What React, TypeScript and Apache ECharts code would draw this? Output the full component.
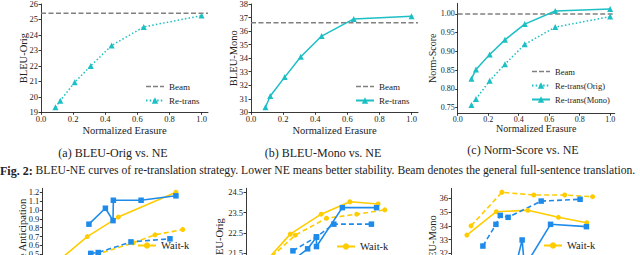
import React, { useEffect, useRef } from 'react';
import * as echarts from 'echarts';

// ---------- Top row: BLEU-NE curves ----------
const neX = [0.09, 0.12, 0.21, 0.31, 0.44, 0.64, 1.0];
const bleuOrigRetrans = [19.32, 19.75, 20.94, 22.0, 23.32, 24.52, 25.25];
const bleuOrigBeam = 25.4;
const bleuMonoRetrans = [30.37, 31.2, 32.6, 34.1, 35.63, 36.9, 37.1];
const bleuMonoBeam = 36.62;
const normOrig = [0.757, 0.773, 0.822, 0.866, 0.919, 0.965, 0.993];
const normMono = [0.827, 0.852, 0.892, 0.931, 0.973, 1.008, 1.013];
const normBeam = 1.0;

const neTicks = [0, 0.2, 0.4, 0.6, 0.8, 1.0];
const bleuOrigTicks = [19, 20, 21, 22, 23, 24, 25, 26];
const bleuMonoTicks = [30, 31, 32, 33, 34, 35, 36, 37, 38];
const normTicks = [0.75, 0.8, 0.85, 0.9, 0.95, 1.0];

// ---------- Bottom row: simultaneous translation curves ----------
const antWaitkX = [0.8, 2.71, 4.58, 8.05];
const antWaitkY = [0.4, 0.7, 0.92, 1.2];
const antWaitkFtX = [2.27, 5.48, 6.79, 8.46];
const antWaitkFtY = [0.44, 0.63, 0.72, 0.78];
const antOursX = [2.81, 3.8, 4.26, 4.28, 5.95, 8.05];
const antOursY = [0.84, 1.02, 0.88, 1.11, 1.11, 1.16];
const antOursFtX = [2.92, 3.37, 5.34, 7.69];
const antOursFtY = [0.51, 0.52, 0.64, 0.675];
const antTicks = [0, 0.1, 0.2, 0.3, 0.4, 0.5, 0.6, 0.7, 0.8, 0.9, 1.0, 1.1, 1.2];

const origWaitkX = [1.02, 2.65, 4.5, 6.22, 7.91];
const origWaitkY = [20.96, 22.45, 23.43, 24.04, 23.93];
const origWaitkFtX = [1.2, 2.95, 4.82, 6.63, 8.31];
const origWaitkFtY = [21.1, 22.4, 23.23, 23.43, 23.64];
const origOursX = [2.4, 3.69, 4.22, 4.22, 5.77, 7.82];
const origOursY = [20.9, 21.73, 22.3, 21.84, 23.75, 23.75];
const origOursFtX = [2.81, 4.22, 5.26, 7.51];
const origOursFtY = [21.63, 22.32, 22.94, 22.94];
const origTicks = [19.5, 20.5, 21.5, 22.5, 23.5, 24.5];

const monoWaitkX = [0.95, 2.71, 4.6, 6.43, 8.13];
const monoWaitkY = [33.33, 35.03, 35.13, 34.62, 34.23];
const monoWaitkFtX = [1.2, 3.05, 4.96, 6.81, 8.48];
const monoWaitkFtY = [34.0, 36.44, 36.24, 36.24, 36.12];
const monoOursX = [3.9, 4.26, 4.4, 5.96, 8.11];
const monoOursY = [31.2, 32.97, 31.0, 34.11, 33.94];
const monoOursFtX = [1.91, 2.69, 2.95, 3.42, 5.4, 7.73];
const monoOursFtY = [32.53, 34.11, 34.76, 34.62, 35.8, 35.93];
const monoTicks = [29, 30, 31, 32, 33, 34, 35, 36];

const FONT = 'Liberation Serif';
const CYAN = '#1cbfc4';
const GRAY = '#808080';
const YEL = '#FFCC00';
const BLUE = '#1E8BEA';
const INK = '#222222';

// dashed-line legend glyph (18 x 8 box, dashes centred vertically)
const DASH_ICON =
  'path://M0,0h0.01v0.01h-0.01z M17.99,7.99h0.01v0.01h-0.01z M0,3.3h5v1.4h-5z M7,3.3h5v1.4h-5z M14,3.3h4v1.4h-4z';

const zip = (xs: number[], ys: number[]) => xs.map((x, i) => [x, ys[i]]);

type Panel = {
  left: number; top: number; width: number; height: number;
  xMin: number; xMax: number; yMin: number; yMax: number;
  xTicks: number[] | null; yTicks: number[];
  xDec: number; yDec: number;
  xName: string; yName: string;
  tickFont: number; nameFont: number; yNameGap: number; xNameGap: number;
};

const panels: Panel[] = [
  { left: 41, top: 4, width: 167, height: 108.3, xMin: 0, xMax: 1.04, yMin: 19, yMax: 26,
    xTicks: neTicks, yTicks: bleuOrigTicks, xDec: 1, yDec: 0, xName: 'Normalized Erasure', yName: 'BLEU-Orig',
    tickFont: 8.5, nameFont: 10.5, yNameGap: 12, xNameGap: 13 },
  { left: 251, top: 4, width: 167, height: 108.3, xMin: 0, xMax: 1.04, yMin: 30, yMax: 38,
    xTicks: neTicks, yTicks: bleuMonoTicks, xDec: 1, yDec: 0, xName: 'Normalized Erasure', yName: 'BLEU-Mono',
    tickFont: 8.5, nameFont: 10.5, yNameGap: 12, xNameGap: 13 },
  { left: 457.7, top: 3.3, width: 157, height: 110, xMin: 0, xMax: 1.03, yMin: 0.735, yMax: 1.0285,
    xTicks: neTicks, yTicks: normTicks, xDec: 1, yDec: 2, xName: 'Normalized Erasure', yName: 'Norm-Score',
    tickFont: 8, nameFont: 10, yNameGap: 20, xNameGap: 10 },
  { left: 42.3, top: 188.3, width: 166, height: 110.3, xMin: 0, xMax: 10, yMin: 0, yMax: 1.245,
    xTicks: null, yTicks: antTicks, xDec: 0, yDec: 1, xName: '', yName: 'Average Anticipation',
    tickFont: 8.5, nameFont: 10.5, yNameGap: 14, xNameGap: 12 },
  { left: 246, top: 188.3, width: 167, height: 110, xMin: 0, xMax: 10, yMin: 19.3, yMax: 24.7,
    xTicks: null, yTicks: origTicks, xDec: 0, yDec: 1, xName: '', yName: 'BLEU-Orig',
    tickFont: 8.5, nameFont: 10.5, yNameGap: 21, xNameGap: 12 },
  { left: 451, top: 188.3, width: 167, height: 110, xMin: 0, xMax: 10, yMin: 28.73, yMax: 36.73,
    xTicks: null, yTicks: monoTicks, xDec: 0, yDec: 0, xName: '', yName: 'BLEU-Mono',
    tickFont: 8.5, nameFont: 10.5, yNameGap: 13, xNameGap: 12 },
];

const strip = (n: string) => n.split('|')[0];

function buildOption() {
  const grid: any[] = [];
  const xAxis: any[] = [];
  const yAxis: any[] = [];
  panels.forEach((p, i) => {
    grid.push({ left: p.left, top: p.top, width: p.width, height: p.height, containLabel: false, outerBoundsMode: 'none' });
    const lineStyle = { color: INK, width: 0.9 };
    xAxis.push({
      gridIndex: i, type: 'value', min: p.xMin, max: p.xMax,
      axisLine: { show: true, lineStyle },
      axisTick: p.xTicks ? { show: true, length: 2.5, customValues: p.xTicks, lineStyle } : { show: false },
      axisLabel: p.xTicks ? {
        show: true, customValues: p.xTicks, margin: 2.2, hideOverlap: false,
        formatter: (v: number) => v.toFixed(p.xDec),
        fontFamily: FONT, fontSize: p.tickFont, color: INK,
      } : { show: false },
      splitLine: { show: false },
      name: p.xName, nameLocation: 'middle', nameGap: p.xNameGap, nameMoveOverlap: false,
      nameTextStyle: { fontFamily: FONT, fontSize: p.nameFont, color: INK },
    });
    yAxis.push({
      gridIndex: i, type: 'value', min: p.yMin, max: p.yMax,
      axisLine: { show: true, lineStyle },
      axisTick: { show: true, length: 2.5, customValues: p.yTicks, lineStyle },
      axisLabel: {
        show: true, customValues: p.yTicks, margin: 3, hideOverlap: false,
        formatter: (v: number) => v.toFixed(p.yDec),
        fontFamily: FONT, fontSize: p.tickFont, color: INK,
      },
      splitLine: { show: false },
      name: p.yName, nameLocation: 'middle', nameGap: p.yNameGap, nameRotate: 90, nameMoveOverlap: false,
      nameTextStyle: { fontFamily: FONT, fontSize: p.nameFont, color: INK },
    });
  });

  const series: any[] = [];
  const beam = (name: string, idx: number, v: number) => ({
    name, type: 'line', xAxisIndex: idx, yAxisIndex: idx, symbol: 'none',
    data: [[panels[idx].xMin, v], [panels[idx].xMax, v]],
    lineStyle: { color: GRAY, width: 1.4, type: [5, 2.5] }, itemStyle: { color: GRAY },
  });
  const tri = (name: string, idx: number, ys: number[], dotted: boolean) => ({
    name, type: 'line', xAxisIndex: idx, yAxisIndex: idx,
    data: zip(neX, ys), symbol: 'triangle', symbolSize: 6,
    lineStyle: { color: CYAN, width: 1.5, type: dotted ? [1.5, 2.2] : 'solid' },
    itemStyle: { color: CYAN },
  });
  series.push(beam('Beam|a', 0, bleuOrigBeam), tri('Re-trans|a', 0, bleuOrigRetrans, true));
  series.push(beam('Beam|b', 1, bleuMonoBeam), tri('Re-trans|b', 1, bleuMonoRetrans, false));
  series.push(beam('Beam|c', 2, normBeam), tri('Re-trans(Orig)|c', 2, normOrig, true),
    tri('Re-trans(Mono)|c', 2, normMono, false));

  const bl = (name: string, idx: number, xs: number[], ys: number[], color: string, dashed: boolean, square: boolean) => ({
    name, type: 'line', xAxisIndex: idx, yAxisIndex: idx,
    data: zip(xs, ys), symbol: square ? 'rect' : 'circle', symbolSize: square ? 5.5 : 5,
    lineStyle: { color, width: 1.6, type: dashed ? [5, 3] : 'solid' },
    itemStyle: { color },
  });
  const bottom = [
    { tag: 'd', idx: 3, wk: [antWaitkX, antWaitkY], wkft: [antWaitkFtX, antWaitkFtY], ours: [antOursX, antOursY], oursft: [antOursFtX, antOursFtY] },
    { tag: 'e', idx: 4, wk: [origWaitkX, origWaitkY], wkft: [origWaitkFtX, origWaitkFtY], ours: [origOursX, origOursY], oursft: [origOursFtX, origOursFtY] },
    { tag: 'f', idx: 5, wk: [monoWaitkX, monoWaitkY], wkft: [monoWaitkFtX, monoWaitkFtY], ours: [monoOursX, monoOursY], oursft: [monoOursFtX, monoOursFtY] },
  ];
  bottom.forEach((b) => {
    series.push(
      bl('Wait-k|' + b.tag, b.idx, b.wk[0], b.wk[1], YEL, false, false),
      bl('Wait-k-FT|' + b.tag, b.idx, b.wkft[0], b.wkft[1], YEL, true, false),
      bl('Re-trans|' + b.tag, b.idx, b.ours[0], b.ours[1], BLUE, false, true),
      bl('Re-trans-FT|' + b.tag, b.idx, b.oursft[0], b.oursft[1], BLUE, true, true),
    );
  });

  const legendBase = {
    orient: 'vertical', itemWidth: 18, itemHeight: 8, itemGap: 5, padding: 0, height: 60,
    formatter: strip, selectedMode: false,
    textStyle: { fontFamily: FONT, fontSize: 9, color: INK },
  };
  const beamItem = (name: string) => ({ name, icon: DASH_ICON, itemStyle: { color: GRAY, borderWidth: 0 } });
  const legend = [
    { ...legendBase, left: 145, top: 82, data: [beamItem('Beam|a'), 'Re-trans|a'] },
    { ...legendBase, left: 355, top: 82, data: [beamItem('Beam|b'), 'Re-trans|b'] },
    { ...legendBase, left: 531, top: 67, textStyle: { ...legendBase.textStyle, fontSize: 8.5 },
      data: [beamItem('Beam|c'), 'Re-trans(Orig)|c', 'Re-trans(Mono)|c'] },
    { ...legendBase, left: 137, top: 240, itemGap: 6, textStyle: { ...legendBase.textStyle, fontSize: 10.5 }, data: ['Wait-k|d', 'Wait-k-FT|d'] },
    { ...legendBase, left: 336, top: 241, itemGap: 6, textStyle: { ...legendBase.textStyle, fontSize: 10.5 }, data: ['Wait-k|e', 'Wait-k-FT|e'] },
    { ...legendBase, left: 543, top: 240, itemGap: 6, textStyle: { ...legendBase.textStyle, fontSize: 10.5 }, data: ['Wait-k|f', 'Wait-k-FT|f'] },
  ];

  const cap = (text: string, x: number, y: number) => ({
    type: 'text', x, y,
    style: { text, align: 'center', verticalAlign: 'middle', font: `12px ${FONT}`, fill: INK },
  });
  const graphic = [
    cap('(a) BLEU-Orig vs. NE', 113, 152.5),
    cap('(b) BLEU-Mono vs. NE', 323, 152.5),
    cap('(c) Norm-Score vs. NE', 523, 150),
    {
      type: 'text', x: 0, y: 170.5,
      style: {
        text: '{b|Fig. 2:} BLEU-NE curves of re-translation strategy. Lower NE means better stability. Beam denotes the general full-sentence translation.',
        verticalAlign: 'middle', align: 'left', font: `11.65px ${FONT}`, fill: INK,
        rich: { b: { fontWeight: 'bold', fontSize: 12, fontFamily: FONT, fill: INK } },
      },
    },
  ];

  return {
    animation: false, backgroundColor: '#ffffff',
    textStyle: { fontFamily: FONT },
    grid, xAxis, yAxis, series, legend, graphic,
  };
}

export default function App() {
  const ref = useRef<HTMLDivElement>(null);
  useEffect(() => {
    if (!ref.current) return;
    const chart = echarts.init(ref.current, undefined, { renderer: 'svg' });
    chart.setOption(buildOption() as any);
    return () => chart.dispose();
  }, []);
  return <div ref={ref} style={{ position: 'absolute', left: 0, top: 0, width: 640, height: 255, background: '#fff' }} />;
}
